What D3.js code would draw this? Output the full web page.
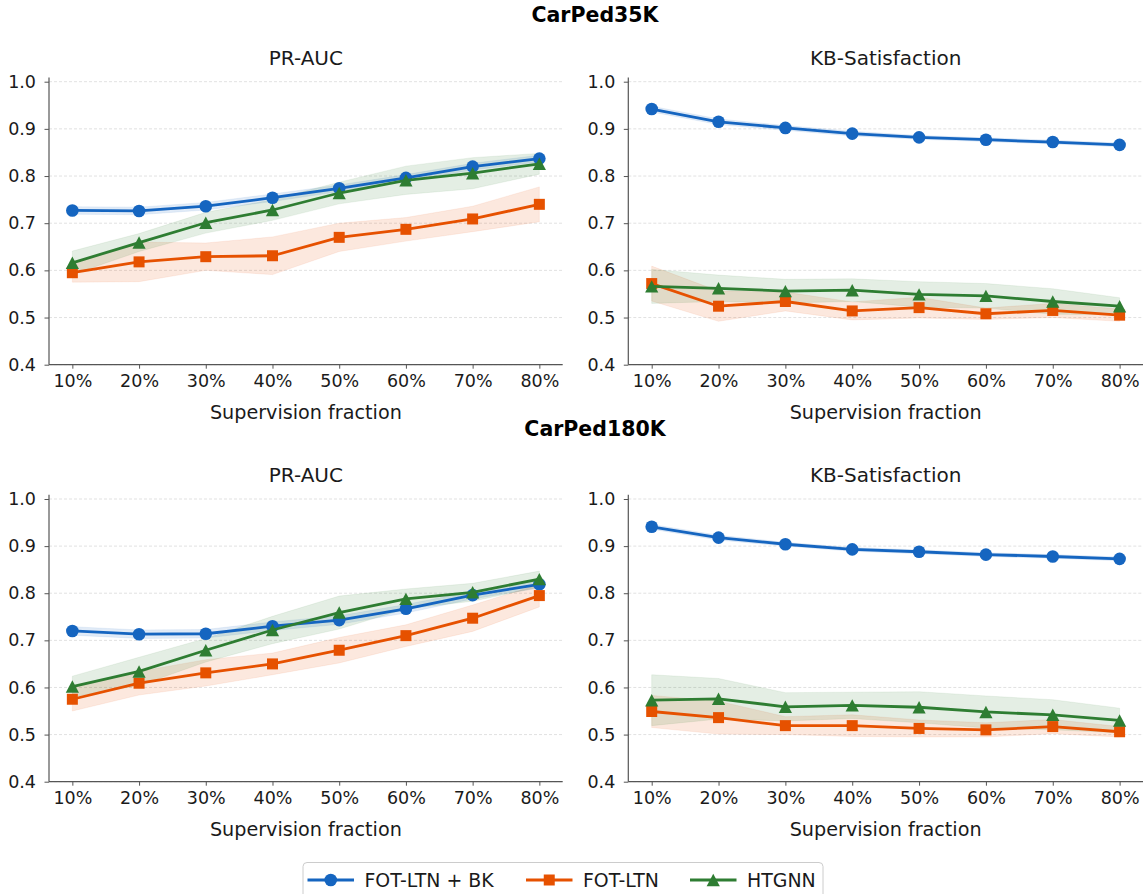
<!DOCTYPE html>
<html>
<head>
<meta charset="utf-8">
<script src="https://cdn.jsdelivr.net/npm/d3@7"></script>
<style>
  html, body { margin: 0; padding: 0; background: #fff; }
  svg { display: block; font-family: "DejaVu Sans", sans-serif; }
</style>
</head>
<body>
<svg id="chart" width="1146" height="894"></svg>
<script>
// ---------- data ----------
const fractionLabels = ["10%", "20%", "30%", "40%", "50%", "60%", "70%", "80%"];
const fractionValues = [10, 20, 30, 40, 50, 60, 70, 80];
const seriesNames = ["FOT-LTN + BK", "FOT-LTN", "HTGNN"];
const yTicks = [0.4, 0.5, 0.6, 0.7, 0.8, 0.9, 1.0];
const groupTitles = ["CarPed35K", "CarPed180K"];
const panelTitles = ["PR-AUC", "KB-Satisfaction"];

// CarPed35K, PR-AUC
const pr35_bk      = [0.727, 0.726, 0.736, 0.754, 0.774, 0.796, 0.820, 0.837];
const pr35_bk_sd   = [0.008, 0.008, 0.008, 0.008, 0.007, 0.007, 0.007, 0.007];
const pr35_fot     = [0.595, 0.618, 0.629, 0.631, 0.670, 0.687, 0.709, 0.740];
const pr35_fot_sd  = [0.020, 0.042, 0.029, 0.040, 0.030, 0.025, 0.027, 0.037];
const pr35_ht      = [0.616, 0.659, 0.701, 0.728, 0.764, 0.791, 0.806, 0.826];
const pr35_ht_sd   = [0.025, 0.019, 0.022, 0.022, 0.023, 0.030, 0.033, 0.022];

// CarPed35K, KB-Satisfaction
const kb35_bk      = [0.942, 0.915, 0.902, 0.890, 0.882, 0.877, 0.872, 0.866];
const kb35_bk_sd   = [0.006, 0.006, 0.005, 0.005, 0.004, 0.004, 0.004, 0.004];
const kb35_fot     = [0.572, 0.524, 0.534, 0.514, 0.521, 0.508, 0.515, 0.505];
const kb35_fot_sd  = [0.037, 0.032, 0.020, 0.019, 0.022, 0.012, 0.015, 0.013];
const kb35_ht      = [0.566, 0.562, 0.556, 0.558, 0.549, 0.546, 0.534, 0.524];
const kb35_ht_sd   = [0.036, 0.028, 0.025, 0.024, 0.027, 0.026, 0.027, 0.018];

// CarPed180K, PR-AUC
const pr180_bk     = [0.720, 0.713, 0.714, 0.730, 0.743, 0.767, 0.796, 0.819];
const pr180_bk_sd  = [0.009, 0.009, 0.009, 0.009, 0.009, 0.009, 0.008, 0.008];
const pr180_fot    = [0.575, 0.609, 0.631, 0.650, 0.679, 0.710, 0.747, 0.795];
const pr180_fot_sd = [0.025, 0.025, 0.028, 0.023, 0.027, 0.023, 0.028, 0.024];
const pr180_ht     = [0.602, 0.634, 0.679, 0.722, 0.759, 0.788, 0.802, 0.830];
const pr180_ht_sd  = [0.022, 0.030, 0.025, 0.029, 0.035, 0.021, 0.019, 0.017];

// CarPed180K, KB-Satisfaction
const kb180_bk     = [0.941, 0.918, 0.904, 0.893, 0.888, 0.882, 0.878, 0.873];
const kb180_bk_sd  = [0.005, 0.005, 0.004, 0.004, 0.004, 0.004, 0.004, 0.004];
const kb180_fot    = [0.549, 0.536, 0.519, 0.519, 0.513, 0.510, 0.517, 0.506];
const kb180_fot_sd = [0.034, 0.035, 0.019, 0.023, 0.018, 0.015, 0.015, 0.011];
const kb180_ht     = [0.573, 0.576, 0.559, 0.562, 0.558, 0.548, 0.542, 0.530];
const kb180_ht_sd  = [0.054, 0.043, 0.030, 0.028, 0.033, 0.034, 0.032, 0.026];

// ---------- styles ----------
const colors = ["#1565C0", "#E65100", "#2E7D32"];
const markers = ["circle", "square", "triangle"];

const panels = [
  { row: 0, col: 0, series: [[pr35_bk, pr35_bk_sd], [pr35_fot, pr35_fot_sd], [pr35_ht, pr35_ht_sd]] },
  { row: 0, col: 1, series: [[kb35_bk, kb35_bk_sd], [kb35_fot, kb35_fot_sd], [kb35_ht, kb35_ht_sd]] },
  { row: 1, col: 0, series: [[pr180_bk, pr180_bk_sd], [pr180_fot, pr180_fot_sd], [pr180_ht, pr180_ht_sd]] },
  { row: 1, col: 1, series: [[kb180_bk, kb180_bk_sd], [kb180_fot, kb180_fot_sd], [kb180_ht, kb180_ht_sd]] },
];

const colX = [[49, 562.7], [628.3, 1143]];           // axes left/right
const rowY = [[81.7, 364.7], [499, 781.7]];          // y of 1.0 and of 0.4
const supY = [21.5, 436];
const titleY = [65, 482];

const svg = d3.select("#chart");

function markerPath(type) {
  if (type === "circle") return d3.symbol().type(d3.symbolCircle).size(Math.PI * 6.3 * 6.3)();
  if (type === "square") return d3.symbol().type(d3.symbolSquare).size(11 * 11)();
  // matplotlib-style "^": bbox-centred triangle
  const h = 6.2, w = 6.6;
  return `M0,${-h}L${w},${h}L${-w},${h}Z`;
}

// group titles
groupTitles.forEach((t, i) => {
  svg.append("text").attr("x", 595).attr("y", supY[i])
    .attr("text-anchor", "middle").attr("font-weight", "bold")
    .attr("font-size", 20.5).attr("fill", "#000").text(t);
});

panels.forEach(p => {
  const [x0, x1] = colX[p.col];
  const [yTop, yBot] = rowY[p.row];
  const x = d3.scaleLinear().domain([6.5, 83.5]).range([x0, x1]);
  const y = d3.scaleLinear().domain([0.4, 1.0]).range([yBot, yTop]);
  const yMax = 1.009;

  const g = svg.append("g");

  // grid
  g.append("g").selectAll("line").data(yTicks).join("line")
    .attr("x1", x0).attr("x2", x1)
    .attr("y1", d => y(d)).attr("y2", d => y(d))
    .attr("stroke", "#d9d9d9").attr("stroke-width", 0.8)
    .attr("stroke-dasharray", "3,2");

  // bands
  p.series.forEach(([m, sd], si) => {
    const area = d3.area()
      .x((d, i) => x(fractionValues[i]))
      .y0((d, i) => y(m[i] - sd[i]))
      .y1((d, i) => y(m[i] + sd[i]));
    g.append("path").datum(m).attr("d", area)
      .attr("fill", colors[si]).attr("fill-opacity", 0.13)
      .attr("stroke", colors[si]).attr("stroke-opacity", 0.08).attr("stroke-width", 1);
  });

  // lines + markers
  p.series.forEach(([m], si) => {
    const line = d3.line().x((d, i) => x(fractionValues[i])).y(d => y(d));
    g.append("path").datum(m).attr("d", line)
      .attr("fill", "none").attr("stroke", colors[si]).attr("stroke-width", 2.8)
      .attr("stroke-linejoin", "round");
    g.append("g").selectAll("path").data(m).join("path")
      .attr("transform", (d, i) => `translate(${x(fractionValues[i])},${y(d)})`)
      .attr("d", markerPath(markers[si]))
      .attr("fill", colors[si]);
  });

  // axes
  const xAxis = d3.axisBottom(x).tickValues(fractionValues)
    .tickFormat((d, i) => fractionLabels[i]).tickSize(4).tickPadding(6);
  const ax = g.append("g").attr("transform", `translate(0,${yBot})`).call(xAxis);
  ax.select(".domain").attr("d", `M${x0},0H${x1}`);

  const yAxis = d3.axisLeft(y).tickValues(yTicks).tickFormat(d3.format(".1f"))
    .tickSize(4.5).tickPadding(8.5);
  const ay = g.append("g").attr("transform", `translate(${x0},0)`).call(yAxis);
  ay.select(".domain").attr("d", `M0,${y(yMax)}V${yBot}`);

  [ax, ay].forEach(a => {
    a.selectAll(".domain").attr("stroke", "#555").attr("stroke-width", 1.2);
    a.selectAll(".tick line").attr("stroke", "#555").attr("stroke-width", 1);
    a.selectAll(".tick text").attr("font-size", 17.5).attr("fill", "#1a1a1a")
      .attr("font-family", "DejaVu Sans");
  });

  // titles
  g.append("text").attr("x", (x0 + x1) / 2).attr("y", titleY[p.row])
    .attr("text-anchor", "middle").attr("font-size", 20).attr("fill", "#1a1a1a")
    .text(panelTitles[p.col]);
  g.append("text").attr("x", (x0 + x1) / 2).attr("y", yBot + 54.5)
    .attr("text-anchor", "middle").attr("font-size", 19.2).attr("fill", "#1a1a1a")
    .text("Supervision fraction");
});

// legend
const lg = svg.append("g");
lg.append("rect").attr("x", 303).attr("y", 862.5).attr("width", 520).attr("height", 42)
  .attr("rx", 4).attr("fill", "#fff").attr("stroke", "#cccccc").attr("stroke-width", 1);
const legendX = [307.5, 526, 690];
seriesNames.forEach((n, i) => {
  const lx = legendX[i];
  lg.append("line").attr("x1", lx).attr("x2", lx + 46.5).attr("y1", 880).attr("y2", 880)
    .attr("stroke", colors[i]).attr("stroke-width", 2.8);
  lg.append("path").attr("transform", `translate(${lx + 23.25},880)`)
    .attr("d", markerPath(markers[i])).attr("fill", colors[i]);
  lg.append("text").attr("x", lx + 57).attr("y", 886.5)
    .attr("font-size", 18.9).attr("fill", "#1a1a1a").text(n);
});
</script>
</body>
</html>
